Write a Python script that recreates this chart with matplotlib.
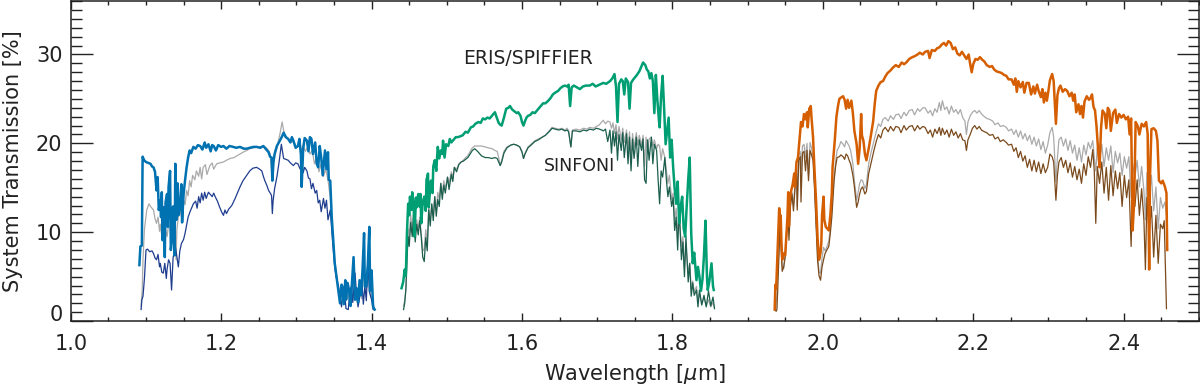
import numpy as np
import matplotlib
matplotlib.use('Agg')
import matplotlib.pyplot as plt
import matplotlib.transforms as mtrans
from matplotlib.ticker import MultipleLocator

# system transmission [%] vs wavelength [um]
# columns: wavelength, transmission

j_eris = np.array([
    [1.0912, 6.3], [1.0925, 8.4], [1.0945, 8.5], [1.0955, 18.5], [1.0975, 18.1], [1.100, 17.9],
    [1.103, 17.8], [1.106, 17.7], [1.108, 17.4], [1.110, 17.3], [1.112, 16.8], [1.114, 14.7],
    [1.1155, 16.2], [1.117, 12.5], [1.119, 13.6], [1.120, 11.7], [1.121, 14.5], [1.122, 9.1],
    [1.1235, 12.8], [1.125, 7.2], [1.126, 13.4], [1.128, 14.3], [1.129, 10.6], [1.130, 15.1],
    [1.132, 16.9], [1.133, 8.0], [1.135, 9.5], [1.136, 12.9], [1.138, 7.4], [1.139, 17.7],
    [1.1405, 11.4], [1.142, 15.5], [1.143, 11.9], [1.145, 12.8], [1.147, 15.4], [1.148, 11.1],
    [1.150, 14.3], [1.152, 15.9], [1.154, 17.3], [1.156, 18.4], [1.158, 19.2], [1.160, 18.9],
    [1.163, 19.6], [1.166, 19.4], [1.169, 19.8], [1.172, 19.7], [1.175, 19.3], [1.178, 20.1],
    [1.180, 19.5], [1.183, 19.9], [1.186, 19.1], [1.188, 19.8], [1.190, 19.7], [1.193, 19.2],
    [1.196, 19.8], [1.200, 19.6], [1.203, 19.7], [1.207, 19.4], [1.211, 19.7], [1.216, 19.6],
    [1.220, 19.5], [1.225, 19.6], [1.230, 19.4], [1.234, 19.4], [1.238, 19.5], [1.243, 19.6],
    [1.247, 19.6], [1.252, 19.5], [1.256, 19.7], [1.260, 19.3], [1.263, 19.0], [1.265, 18.5],
    [1.267, 18.4], [1.268, 15.8], [1.2695, 17.9], [1.271, 18.8], [1.274, 19.7], [1.278, 20.3],
    [1.281, 20.8], [1.283, 21.2], [1.286, 20.7], [1.289, 20.5], [1.292, 20.1], [1.294, 20.7],
    [1.296, 20.3], [1.299, 19.5], [1.302, 19.7], [1.304, 20.5], [1.306, 18.7], [1.307, 15.1],
    [1.309, 19.4], [1.311, 20.6], [1.314, 20.3], [1.316, 19.1], [1.318, 20.7], [1.320, 20.5],
    [1.322, 18.8], [1.325, 20.1], [1.327, 17.7], [1.329, 17.3], [1.331, 19.7], [1.333, 18.4],
    [1.335, 16.4], [1.338, 19.2], [1.340, 17.1], [1.342, 19.0], [1.343, 15.9], [1.345, 15.8],
    [1.347, 11.7], [1.349, 9.1], [1.351, 6.5], [1.354, 4.6], [1.356, 3.4], [1.358, 2.0],
    [1.360, 4.1], [1.361, 3.9], [1.363, 1.9], [1.365, 4.6], [1.366, 2.4], [1.368, 4.3],
    [1.370, 3.5], [1.372, 1.7], [1.374, 4.4], [1.376, 7.2], [1.378, 2.4], [1.380, 3.7],
    [1.382, 2.1], [1.384, 4.6], [1.386, 2.9], [1.388, 5.9], [1.390, 9.9], [1.391, 3.9],
    [1.393, 3.9], [1.395, 6.4], [1.397, 10.6], [1.398, 3.4], [1.400, 5.7], [1.402, 1.6],
    [1.404, 1.3]])

j_gray = np.array([
    [1.0935, 1.7], [1.094, 2.4], [1.095, 3.5], [1.096, 6.9], [1.098, 10.4], [1.101, 12.5],
    [1.104, 13.2], [1.106, 12.9], [1.108, 12.7], [1.110, 12.5], [1.112, 11.5], [1.114, 11.0],
    [1.116, 11.7], [1.118, 10.1], [1.119, 10.9], [1.121, 9.6], [1.123, 9.9], [1.125, 8.5],
    [1.126, 10.3], [1.128, 9.5], [1.130, 10.8], [1.132, 10.6], [1.134, 8.7], [1.136, 11.3],
    [1.138, 10.7], [1.140, 6.9], [1.141, 10.2], [1.143, 11.7], [1.145, 12.5], [1.147, 11.8],
    [1.150, 13.6], [1.152, 13.1], [1.154, 14.7], [1.156, 14.1], [1.158, 15.8], [1.160, 15.1],
    [1.162, 16.4], [1.165, 15.9], [1.167, 16.9], [1.170, 16.3], [1.172, 17.3], [1.174, 16.0],
    [1.176, 17.3], [1.179, 17.6], [1.181, 16.5], [1.185, 17.5], [1.188, 17.8], [1.190, 17.1],
    [1.194, 17.7], [1.198, 17.8], [1.203, 17.9], [1.207, 18.1], [1.212, 18.3], [1.217, 18.4],
    [1.221, 18.6], [1.225, 18.8], [1.229, 19.0], [1.234, 19.2], [1.238, 19.4], [1.243, 19.5],
    [1.247, 19.6], [1.252, 19.6], [1.256, 19.7], [1.260, 19.5], [1.263, 19.2], [1.265, 18.8],
    [1.268, 16.2], [1.270, 18.1], [1.274, 19.5], [1.278, 21.0], [1.281, 22.4], [1.283, 21.5],
    [1.285, 20.7], [1.289, 20.5], [1.293, 20.2], [1.297, 20.1], [1.300, 19.5], [1.303, 19.9],
    [1.306, 19.2], [1.309, 19.8], [1.312, 19.1], [1.315, 19.6], [1.318, 18.8], [1.321, 19.2],
    [1.324, 17.7], [1.327, 18.5], [1.330, 16.8], [1.333, 17.7], [1.336, 16.3], [1.339, 17.1],
    [1.342, 15.9], [1.345, 13.9], [1.347, 11.4], [1.349, 8.9], [1.351, 6.7], [1.354, 4.7],
    [1.356, 3.3], [1.358, 2.4], [1.361, 3.7], [1.363, 2.1], [1.366, 4.0], [1.368, 2.5],
    [1.371, 3.5], [1.373, 1.9], [1.376, 5.7], [1.378, 2.7], [1.381, 3.4], [1.384, 4.1],
    [1.387, 2.5], [1.389, 6.4], [1.391, 3.1], [1.394, 3.9], [1.397, 7.4], [1.399, 2.9],
    [1.402, 1.9], [1.404, 1.4]])

j_sinf = np.array([
    [1.0935, 1.3], [1.0945, 2.4], [1.096, 2.8], [1.098, 4.9], [1.100, 8.0], [1.102, 8.1],
    [1.105, 7.8], [1.108, 7.9], [1.110, 7.6], [1.112, 7.1], [1.114, 6.9], [1.116, 7.5],
    [1.118, 6.1], [1.119, 6.5], [1.121, 5.5], [1.123, 5.4], [1.125, 6.5], [1.127, 4.8],
    [1.128, 5.8], [1.130, 6.9], [1.132, 6.5], [1.134, 3.5], [1.136, 7.1], [1.139, 8.4],
    [1.141, 7.3], [1.143, 6.1], [1.145, 7.9], [1.147, 8.7], [1.150, 9.2], [1.152, 9.9],
    [1.154, 10.8], [1.156, 11.7], [1.159, 12.4], [1.163, 13.2], [1.166, 13.5], [1.168, 12.7],
    [1.170, 14.0], [1.172, 13.3], [1.174, 14.4], [1.176, 13.6], [1.178, 14.5], [1.180, 13.8],
    [1.183, 14.5], [1.185, 14.3], [1.188, 14.0], [1.190, 14.4], [1.192, 14.0], [1.195, 13.5],
    [1.198, 12.8], [1.201, 12.2], [1.203, 11.9], [1.205, 12.5], [1.207, 12.1], [1.210, 12.6],
    [1.214, 13.0], [1.218, 13.7], [1.221, 14.3], [1.225, 15.1], [1.229, 15.8], [1.234, 16.4],
    [1.238, 16.9], [1.242, 17.2], [1.247, 17.3], [1.251, 17.1], [1.254, 16.9], [1.256, 16.3],
    [1.258, 15.8], [1.261, 15.2], [1.263, 14.7], [1.266, 14.3], [1.267, 14.1], [1.268, 12.1],
    [1.269, 13.5], [1.271, 14.9], [1.274, 16.2], [1.277, 17.9], [1.280, 19.9], [1.283, 18.3],
    [1.286, 18.2], [1.289, 18.1], [1.292, 17.8], [1.296, 17.5], [1.299, 17.8], [1.302, 17.7],
    [1.305, 17.1], [1.307, 17.9], [1.309, 16.7], [1.311, 17.3], [1.314, 16.9], [1.316, 16.1],
    [1.318, 16.0], [1.320, 14.9], [1.322, 15.5], [1.325, 14.4], [1.327, 14.7], [1.329, 13.3],
    [1.331, 13.6], [1.333, 12.3], [1.336, 13.8], [1.338, 12.7], [1.340, 13.6], [1.342, 11.4],
    [1.345, 12.5], [1.348, 9.1], [1.351, 6.1], [1.353, 4.9], [1.356, 3.9], [1.358, 2.7],
    [1.360, 1.6], [1.362, 3.5], [1.364, 3.1], [1.366, 1.4], [1.369, 1.3], [1.371, 3.3],
    [1.373, 3.9], [1.375, 2.1], [1.378, 5.4], [1.380, 2.9], [1.382, 1.6], [1.385, 3.1],
    [1.387, 4.6], [1.389, 1.9], [1.391, 3.9], [1.393, 2.3], [1.395, 6.9], [1.397, 3.3],
    [1.400, 2.4], [1.402, 1.3], [1.404, 1.3]])

h_eris = np.array([
    [1.4398, 3.7], [1.442, 4.4], [1.444, 5.8], [1.4455, 5.1], [1.447, 9.9], [1.4486, 13.2],
    [1.450, 11.9], [1.451, 14.0], [1.453, 12.5], [1.454, 14.5], [1.456, 13.1], [1.457, 9.5],
    [1.459, 13.9], [1.460, 12.8], [1.462, 14.3], [1.4635, 12.9], [1.465, 14.3], [1.466, 11.0],
    [1.468, 13.4], [1.470, 14.0], [1.472, 12.4], [1.473, 15.9], [1.475, 16.6], [1.476, 12.8],
    [1.478, 15.1], [1.479, 15.8], [1.481, 14.4], [1.482, 17.4], [1.484, 18.1], [1.486, 16.9],
    [1.488, 19.6], [1.490, 18.3], [1.492, 19.2], [1.494, 18.8], [1.495, 20.3], [1.497, 18.4],
    [1.499, 19.9], [1.502, 19.7], [1.504, 20.5], [1.506, 20.1], [1.509, 20.4], [1.512, 20.7],
    [1.515, 20.7], [1.518, 20.8], [1.521, 20.9], [1.525, 21.3], [1.528, 21.2], [1.532, 21.8],
    [1.535, 21.9], [1.538, 22.2], [1.542, 22.4], [1.545, 22.3], [1.548, 22.8], [1.551, 22.7],
    [1.554, 22.9], [1.557, 22.8], [1.560, 23.1], [1.564, 23.5], [1.566, 23.0], [1.569, 22.3],
    [1.571, 22.1], [1.573, 22.0], [1.576, 22.9], [1.579, 23.9], [1.582, 24.0], [1.584, 24.2],
    [1.587, 23.8], [1.590, 23.6], [1.593, 23.4], [1.595, 23.5], [1.598, 23.1], [1.600, 22.4],
    [1.602, 22.0], [1.604, 22.5], [1.606, 22.9], [1.608, 23.1], [1.611, 23.2], [1.614, 23.5],
    [1.617, 23.4], [1.621, 23.8], [1.624, 24.1], [1.628, 24.5], [1.631, 24.5], [1.635, 24.8],
    [1.638, 25.1], [1.641, 25.5], [1.644, 25.7], [1.648, 25.9], [1.651, 26.2], [1.654, 26.4],
    [1.657, 26.5], [1.660, 26.4], [1.662, 26.6], [1.664, 24.2], [1.666, 26.3], [1.669, 26.5],
    [1.673, 26.3], [1.677, 26.1], [1.681, 26.4], [1.685, 26.5], [1.690, 26.5], [1.694, 26.7],
    [1.698, 26.4], [1.703, 26.6], [1.708, 26.8], [1.712, 26.7], [1.717, 27.0], [1.720, 27.3],
    [1.723, 27.8], [1.725, 26.4], [1.727, 22.4], [1.729, 26.7], [1.732, 27.2], [1.734, 27.0],
    [1.736, 25.5], [1.738, 27.3], [1.741, 26.9], [1.743, 23.9], [1.745, 26.8], [1.748, 27.2],
    [1.752, 27.6], [1.756, 28.1], [1.759, 28.7], [1.761, 29.1], [1.764, 28.8], [1.766, 28.3],
    [1.768, 28.1], [1.770, 27.3], [1.772, 27.9], [1.774, 27.0], [1.776, 23.4], [1.778, 27.7],
    [1.780, 24.9], [1.782, 22.7], [1.783, 21.8], [1.785, 25.4], [1.787, 27.6], [1.789, 23.9],
    [1.791, 19.9], [1.793, 21.4], [1.795, 22.9], [1.797, 18.4], [1.799, 20.4], [1.801, 17.3],
    [1.803, 14.9], [1.805, 13.2], [1.807, 15.7], [1.809, 11.0], [1.811, 12.9], [1.813, 14.0],
    [1.815, 10.4], [1.817, 9.5], [1.819, 12.9], [1.821, 15.9], [1.823, 18.4], [1.825, 9.9],
    [1.827, 6.5], [1.829, 7.7], [1.832, 4.6], [1.834, 6.1], [1.836, 5.0], [1.838, 3.4],
    [1.840, 4.7], [1.842, 7.4], [1.844, 11.3], [1.846, 4.9], [1.847, 3.5], [1.849, 4.4],
    [1.852, 6.5], [1.854, 3.9], [1.855, 3.5]])

h_gray = np.array([
    [1.4425, 1.7], [1.444, 2.3], [1.446, 3.9], [1.4475, 8.4], [1.4486, 10.4], [1.450, 9.3],
    [1.452, 11.9], [1.454, 10.2], [1.456, 12.5], [1.458, 9.8], [1.460, 11.4], [1.462, 10.3],
    [1.464, 11.7], [1.466, 9.8], [1.468, 7.9], [1.470, 8.1], [1.472, 10.3], [1.474, 8.9],
    [1.476, 12.9], [1.478, 11.3], [1.480, 13.1], [1.482, 11.9], [1.484, 14.0], [1.486, 12.4],
    [1.488, 14.5], [1.490, 13.7], [1.492, 15.5], [1.494, 14.3], [1.496, 15.8], [1.498, 14.9],
    [1.501, 16.2], [1.503, 15.5], [1.506, 16.8], [1.508, 16.2], [1.510, 17.3], [1.513, 17.1],
    [1.516, 17.7], [1.519, 17.9], [1.522, 18.1], [1.525, 18.4], [1.528, 18.6], [1.531, 19.1],
    [1.534, 19.5], [1.537, 19.7], [1.541, 19.7], [1.546, 19.7], [1.551, 19.6], [1.555, 19.5],
    [1.560, 19.4], [1.564, 19.2], [1.567, 19.1], [1.569, 18.4], [1.571, 17.5], [1.573, 18.1],
    [1.576, 19.1], [1.580, 19.6], [1.585, 19.8], [1.589, 19.9], [1.593, 19.8], [1.597, 19.6],
    [1.600, 19.1], [1.602, 18.3], [1.604, 18.9], [1.608, 19.6], [1.612, 19.9], [1.617, 20.3],
    [1.622, 20.5], [1.627, 20.7], [1.631, 20.9], [1.636, 21.4], [1.640, 21.8], [1.644, 21.7],
    [1.649, 21.6], [1.653, 21.7], [1.657, 21.5], [1.660, 21.7], [1.662, 21.4], [1.665, 19.6],
    [1.667, 21.5], [1.672, 21.6], [1.677, 21.5], [1.682, 21.7], [1.686, 21.6], [1.690, 21.8],
    [1.695, 21.7], [1.699, 21.9], [1.703, 22.1], [1.706, 22.4], [1.708, 22.6], [1.711, 22.2],
    [1.714, 22.5], [1.717, 22.4], [1.719, 21.7], [1.721, 22.3], [1.723, 21.1], [1.725, 22.1],
    [1.727, 20.5], [1.729, 21.9], [1.732, 20.4], [1.734, 21.7], [1.736, 20.1], [1.739, 21.5],
    [1.741, 19.4], [1.743, 21.3], [1.745, 17.9], [1.747, 21.1], [1.749, 19.5], [1.752, 21.2],
    [1.754, 19.8], [1.756, 20.9], [1.759, 19.8], [1.761, 20.9], [1.763, 17.4], [1.765, 20.7],
    [1.767, 18.8], [1.769, 20.5], [1.772, 20.7], [1.774, 19.7], [1.776, 20.4], [1.779, 19.4],
    [1.781, 19.9], [1.783, 19.7], [1.785, 18.1], [1.787, 19.4], [1.790, 18.4], [1.792, 16.9],
    [1.794, 15.5], [1.796, 16.4], [1.799, 13.7], [1.801, 14.4], [1.803, 11.4], [1.805, 12.7],
    [1.807, 9.9], [1.809, 11.9], [1.812, 8.4], [1.814, 9.5], [1.816, 5.9], [1.818, 8.4],
    [1.821, 5.4], [1.823, 6.5], [1.825, 3.7], [1.827, 4.5], [1.829, 3.3], [1.832, 3.9],
    [1.834, 2.3], [1.836, 3.1], [1.839, 1.9], [1.842, 2.7], [1.845, 1.7], [1.848, 2.4],
    [1.851, 1.6], [1.854, 2.1], [1.856, 1.5]])

h_sinf = np.array([
    [1.4425, 1.3], [1.444, 2.0], [1.4455, 3.5], [1.447, 6.9], [1.4486, 9.5], [1.450, 8.4],
    [1.452, 11.1], [1.454, 9.5], [1.456, 12.1], [1.458, 8.9], [1.460, 10.9], [1.462, 9.7],
    [1.464, 11.3], [1.466, 9.5], [1.468, 7.2], [1.470, 6.7], [1.472, 9.4], [1.474, 7.9],
    [1.476, 12.5], [1.478, 10.7], [1.480, 13.2], [1.482, 11.3], [1.484, 14.0], [1.486, 11.8],
    [1.488, 13.7], [1.490, 12.9], [1.492, 15.5], [1.494, 13.7], [1.496, 15.3], [1.498, 14.4],
    [1.501, 16.2], [1.503, 14.8], [1.506, 16.5], [1.508, 15.7], [1.510, 17.3], [1.513, 16.8],
    [1.516, 17.6], [1.519, 17.9], [1.522, 18.0], [1.525, 18.2], [1.528, 18.4], [1.531, 18.8],
    [1.534, 19.2], [1.537, 19.4], [1.541, 19.1], [1.546, 18.6], [1.551, 18.4], [1.555, 18.4],
    [1.560, 18.3], [1.564, 18.4], [1.567, 18.3], [1.569, 17.9], [1.571, 17.5], [1.573, 17.9],
    [1.576, 18.9], [1.580, 19.5], [1.585, 19.8], [1.589, 19.9], [1.593, 19.8], [1.597, 19.6],
    [1.600, 19.0], [1.602, 18.3], [1.604, 18.8], [1.608, 19.5], [1.612, 19.8], [1.617, 20.2],
    [1.622, 20.4], [1.627, 20.7], [1.631, 20.9], [1.636, 21.3], [1.640, 21.7], [1.644, 21.6],
    [1.649, 21.5], [1.653, 21.6], [1.657, 21.4], [1.660, 21.5], [1.662, 21.3], [1.665, 19.6],
    [1.667, 21.4], [1.672, 21.4], [1.677, 21.3], [1.682, 21.5], [1.686, 21.4], [1.690, 21.6],
    [1.695, 21.5], [1.699, 21.7], [1.703, 21.6], [1.706, 21.5], [1.708, 21.4], [1.711, 21.6],
    [1.714, 20.2], [1.717, 21.5], [1.719, 18.9], [1.721, 21.4], [1.723, 19.7], [1.725, 21.3],
    [1.727, 18.1], [1.729, 21.0], [1.732, 19.2], [1.734, 21.2], [1.736, 18.4], [1.739, 21.1],
    [1.741, 17.7], [1.743, 20.7], [1.745, 16.9], [1.747, 20.5], [1.749, 18.3], [1.752, 20.7],
    [1.754, 17.4], [1.756, 20.4], [1.759, 19.2], [1.761, 20.5], [1.763, 15.9], [1.765, 15.5],
    [1.767, 20.4], [1.769, 18.1], [1.772, 20.7], [1.774, 17.7], [1.776, 19.9], [1.779, 19.2],
    [1.781, 15.9], [1.783, 13.2], [1.785, 16.9], [1.787, 16.2], [1.790, 18.4], [1.792, 15.9],
    [1.794, 14.0], [1.796, 15.1], [1.799, 12.9], [1.801, 13.9], [1.803, 10.2], [1.805, 11.7],
    [1.807, 8.0], [1.809, 12.8], [1.812, 6.9], [1.814, 8.9], [1.816, 5.0], [1.818, 9.5],
    [1.821, 4.4], [1.823, 6.5], [1.825, 2.8], [1.827, 4.3], [1.829, 2.9], [1.832, 3.5],
    [1.834, 1.6], [1.836, 3.5], [1.839, 1.8], [1.842, 2.9], [1.845, 1.6], [1.848, 3.4],
    [1.851, 1.7], [1.854, 2.7], [1.856, 1.4]])

k_eris = np.array([
    [1.936, 1.3], [1.937, 4.1], [1.938, 3.7], [1.939, 5.9], [1.940, 8.4], [1.941, 10.4],
    [1.942, 12.7], [1.943, 11.4], [1.944, 11.9], [1.945, 8.9], [1.946, 6.9], [1.948, 7.6],
    [1.950, 7.4], [1.952, 10.4], [1.953, 11.7], [1.954, 14.5], [1.955, 10.7], [1.956, 13.7],
    [1.958, 14.7], [1.960, 15.4], [1.962, 16.6], [1.963, 15.1], [1.965, 17.9], [1.967, 18.4],
    [1.969, 20.4], [1.971, 22.4], [1.973, 21.9], [1.975, 23.3], [1.977, 22.7], [1.979, 23.5],
    [1.980, 21.8], [1.982, 23.9], [1.984, 24.2], [1.985, 22.9], [1.987, 20.7], [1.989, 16.9],
    [1.991, 13.6], [1.993, 9.4], [1.995, 6.9], [1.997, 7.7], [1.998, 8.7], [1.999, 11.9],
    [2.001, 14.0], [2.002, 11.4], [2.004, 10.6], [2.006, 10.4], [2.008, 10.2], [2.010, 11.9],
    [2.012, 14.4], [2.013, 17.3], [2.016, 20.4], [2.018, 22.9], [2.020, 24.1], [2.022, 25.0],
    [2.025, 25.2], [2.027, 25.3], [2.029, 24.9], [2.031, 23.9], [2.033, 24.9], [2.035, 24.0],
    [2.038, 24.8], [2.040, 23.4], [2.042, 21.4], [2.045, 19.9], [2.047, 17.7], [2.049, 19.4],
    [2.051, 23.3], [2.052, 20.9], [2.054, 20.3], [2.056, 18.8], [2.058, 18.1], [2.061, 19.4],
    [2.064, 20.9], [2.067, 22.5], [2.069, 24.4], [2.071, 25.9], [2.074, 26.5], [2.077, 26.9],
    [2.080, 27.0], [2.083, 27.5], [2.086, 27.9], [2.090, 28.2], [2.093, 28.5], [2.097, 28.8],
    [2.101, 28.6], [2.105, 29.1], [2.108, 28.9], [2.111, 29.1], [2.115, 29.5], [2.119, 29.7],
    [2.122, 29.8], [2.126, 30.0], [2.129, 30.2], [2.133, 30.0], [2.136, 30.3], [2.140, 30.4],
    [2.142, 29.6], [2.145, 30.5], [2.149, 30.4], [2.152, 30.7], [2.155, 30.8], [2.158, 31.1],
    [2.161, 31.3], [2.164, 31.0], [2.167, 31.5], [2.170, 31.3], [2.173, 30.6], [2.176, 30.8],
    [2.179, 30.1], [2.182, 29.9], [2.185, 30.3], [2.188, 29.9], [2.191, 29.5], [2.194, 30.0],
    [2.196, 28.9], [2.198, 28.0], [2.200, 28.9], [2.203, 29.5], [2.206, 29.4], [2.209, 29.7],
    [2.212, 29.4], [2.215, 29.2], [2.218, 28.8], [2.222, 28.6], [2.225, 28.7], [2.228, 28.3],
    [2.231, 28.1], [2.235, 28.0], [2.238, 27.9], [2.241, 27.7], [2.244, 27.6], [2.247, 27.2],
    [2.251, 27.2], [2.254, 26.6], [2.256, 27.3], [2.258, 25.8], [2.260, 27.0], [2.263, 26.3],
    [2.266, 26.9], [2.268, 25.7], [2.271, 26.8], [2.274, 26.8], [2.277, 25.5], [2.280, 26.4],
    [2.282, 25.6], [2.285, 26.6], [2.287, 25.9], [2.290, 25.2], [2.292, 26.1], [2.294, 24.6],
    [2.296, 25.7], [2.298, 24.8], [2.300, 25.9], [2.302, 27.1], [2.305, 27.8], [2.307, 27.0],
    [2.310, 22.2], [2.312, 25.4], [2.314, 26.2], [2.316, 26.5], [2.319, 25.8], [2.322, 26.1],
    [2.325, 25.9], [2.328, 25.3], [2.331, 25.7], [2.333, 24.8], [2.335, 25.5], [2.337, 23.5],
    [2.340, 24.4], [2.342, 23.3], [2.344, 24.2], [2.346, 22.9], [2.348, 24.7], [2.351, 25.3],
    [2.354, 24.9], [2.356, 25.1], [2.358, 25.5], [2.360, 24.1], [2.362, 23.7], [2.364, 21.9],
    [2.366, 19.4], [2.368, 17.3], [2.370, 21.7], [2.372, 23.7], [2.375, 23.3], [2.377, 21.7],
    [2.379, 24.0], [2.381, 23.7], [2.383, 21.4], [2.386, 23.4], [2.389, 23.8], [2.391, 22.3],
    [2.394, 23.3], [2.397, 22.9], [2.400, 23.2], [2.403, 22.7], [2.406, 23.0], [2.408, 21.0],
    [2.410, 22.8], [2.412, 10.2], [2.414, 13.4], [2.416, 22.4], [2.419, 21.9], [2.421, 21.0],
    [2.424, 22.2], [2.427, 21.9], [2.430, 22.4], [2.432, 21.1], [2.434, 5.8], [2.435, 15.9],
    [2.437, 21.6], [2.440, 21.7], [2.443, 21.4], [2.445, 20.3], [2.447, 15.8], [2.450, 15.5],
    [2.452, 15.8], [2.455, 15.1], [2.457, 14.4], [2.458, 8.0]])

k_gray = np.array([
    [1.937, 1.2], [1.939, 2.9], [1.940, 5.4], [1.942, 8.4], [1.943, 10.9], [1.944, 10.3],
    [1.946, 6.1], [1.948, 5.9], [1.950, 7.7], [1.952, 10.4], [1.954, 11.7], [1.955, 10.2],
    [1.957, 13.4], [1.959, 14.5], [1.961, 13.1], [1.963, 15.4], [1.965, 17.5], [1.966, 12.9],
    [1.968, 18.7], [1.970, 19.1], [1.971, 16.9], [1.973, 19.7], [1.975, 19.9], [1.977, 18.4],
    [1.979, 20.0], [1.981, 16.4], [1.983, 20.1], [1.985, 19.5], [1.987, 18.4], [1.989, 15.4],
    [1.991, 11.4], [1.993, 7.7], [1.995, 5.5], [1.997, 5.4], [1.999, 7.1], [2.001, 8.3],
    [2.003, 7.9], [2.006, 8.5], [2.008, 9.0], [2.010, 10.4], [2.012, 12.4], [2.015, 16.1],
    [2.017, 17.9], [2.019, 19.2], [2.022, 19.7], [2.024, 20.2], [2.027, 19.9], [2.029, 19.6],
    [2.031, 20.3], [2.033, 20.0], [2.035, 19.7], [2.037, 19.2], [2.040, 17.7], [2.042, 15.8],
    [2.045, 13.6], [2.047, 14.5], [2.049, 15.5], [2.051, 15.9], [2.053, 15.8], [2.056, 14.9],
    [2.058, 15.4], [2.061, 17.7], [2.064, 18.9], [2.068, 20.3], [2.071, 21.3], [2.074, 22.2],
    [2.077, 21.9], [2.080, 22.7], [2.083, 22.9], [2.087, 22.5], [2.090, 23.1], [2.094, 22.7],
    [2.097, 23.2], [2.101, 23.3], [2.104, 22.8], [2.108, 23.5], [2.111, 23.1], [2.115, 23.7],
    [2.119, 23.8], [2.122, 23.2], [2.126, 23.9], [2.129, 23.6], [2.133, 24.0], [2.136, 24.0],
    [2.140, 23.4], [2.143, 23.7], [2.146, 23.1], [2.149, 23.9], [2.152, 23.5], [2.155, 24.6],
    [2.157, 23.7], [2.159, 24.8], [2.162, 23.8], [2.165, 24.1], [2.168, 23.3], [2.171, 24.2],
    [2.174, 23.5], [2.177, 23.8], [2.180, 23.3], [2.183, 23.8], [2.186, 22.9], [2.189, 22.5],
    [2.191, 21.0], [2.193, 22.4], [2.196, 23.1], [2.199, 23.5], [2.202, 23.7], [2.205, 23.4],
    [2.208, 23.7], [2.211, 23.3], [2.215, 23.0], [2.218, 22.8], [2.222, 22.7], [2.226, 22.5],
    [2.229, 22.1], [2.233, 22.3], [2.236, 21.9], [2.240, 22.0], [2.244, 21.8], [2.247, 21.4],
    [2.251, 21.6], [2.254, 21.0], [2.257, 21.5], [2.260, 20.7], [2.263, 21.4], [2.266, 20.5],
    [2.269, 21.1], [2.272, 20.3], [2.275, 20.9], [2.278, 19.9], [2.281, 20.7], [2.284, 19.7],
    [2.287, 20.5], [2.290, 19.3], [2.293, 20.2], [2.296, 18.9], [2.299, 19.8], [2.302, 21.2],
    [2.305, 21.8], [2.307, 20.7], [2.310, 15.7], [2.312, 18.4], [2.314, 20.4], [2.317, 20.7],
    [2.320, 19.7], [2.323, 20.5], [2.326, 19.2], [2.329, 20.3], [2.332, 18.9], [2.335, 19.8],
    [2.338, 18.1], [2.341, 19.5], [2.344, 17.9], [2.347, 19.8], [2.350, 18.7], [2.353, 20.1],
    [2.356, 19.4], [2.359, 20.3], [2.361, 18.4], [2.363, 16.9], [2.365, 19.5], [2.368, 17.9],
    [2.371, 19.9], [2.374, 17.4], [2.377, 19.5], [2.380, 18.1], [2.383, 19.7], [2.386, 16.7],
    [2.389, 19.1], [2.392, 17.8], [2.395, 18.9], [2.398, 16.4], [2.401, 18.5], [2.404, 17.2],
    [2.407, 18.5], [2.410, 13.9], [2.412, 17.7], [2.415, 16.1], [2.418, 18.1], [2.421, 15.1],
    [2.424, 17.4], [2.427, 14.7], [2.429, 11.4], [2.431, 16.7], [2.434, 13.7], [2.437, 16.4],
    [2.440, 12.4], [2.443, 15.1], [2.446, 10.4], [2.449, 13.9], [2.452, 12.7], [2.455, 13.4],
    [2.457, 11.9]])

k_sinf = np.array([
    [1.937, 1.2], [1.938, 1.1], [1.939, 1.3], [1.940, 3.4], [1.942, 8.0], [1.943, 10.6],
    [1.944, 9.4], [1.946, 5.6], [1.948, 6.1], [1.950, 7.2], [1.952, 9.9], [1.954, 11.7],
    [1.955, 9.1], [1.957, 12.9], [1.959, 14.3], [1.961, 12.4], [1.963, 14.9], [1.965, 17.3],
    [1.966, 12.5], [1.968, 18.1], [1.970, 18.5], [1.971, 13.4], [1.973, 18.9], [1.975, 19.1],
    [1.977, 16.9], [1.979, 19.2], [1.981, 15.8], [1.983, 19.2], [1.985, 18.7], [1.987, 18.1],
    [1.989, 14.9], [1.991, 10.9], [1.993, 6.9], [1.995, 5.1], [1.997, 4.6], [1.999, 6.1],
    [2.001, 6.9], [2.003, 7.6], [2.006, 8.1], [2.008, 8.4], [2.010, 9.9], [2.012, 11.7],
    [2.015, 15.8], [2.017, 17.4], [2.019, 18.4], [2.022, 18.5], [2.024, 18.7], [2.027, 18.5],
    [2.029, 18.2], [2.031, 18.8], [2.033, 18.6], [2.035, 18.1], [2.037, 17.7], [2.040, 16.4],
    [2.042, 15.1], [2.045, 12.8], [2.047, 13.4], [2.049, 14.3], [2.051, 14.9], [2.053, 15.1],
    [2.056, 14.3], [2.058, 14.6], [2.061, 16.6], [2.064, 17.7], [2.068, 19.2], [2.071, 20.2],
    [2.074, 21.0], [2.077, 20.6], [2.080, 21.5], [2.083, 21.8], [2.087, 21.3], [2.090, 21.9],
    [2.094, 21.4], [2.097, 21.9], [2.101, 21.8], [2.104, 21.2], [2.108, 22.0], [2.111, 21.5],
    [2.115, 21.9], [2.119, 22.0], [2.122, 21.4], [2.126, 22.0], [2.129, 21.6], [2.133, 21.9],
    [2.136, 21.8], [2.140, 21.1], [2.143, 21.5], [2.146, 20.7], [2.149, 21.6], [2.152, 21.1],
    [2.155, 21.8], [2.157, 20.9], [2.159, 21.7], [2.162, 21.0], [2.165, 21.5], [2.168, 20.7],
    [2.171, 21.6], [2.174, 20.9], [2.177, 21.3], [2.180, 20.6], [2.183, 21.1], [2.186, 20.4],
    [2.189, 20.3], [2.191, 19.2], [2.193, 20.4], [2.196, 21.0], [2.199, 21.7], [2.202, 22.0],
    [2.205, 21.6], [2.208, 21.9], [2.211, 21.5], [2.215, 21.3], [2.218, 21.2], [2.222, 20.9],
    [2.226, 21.0], [2.229, 20.5], [2.233, 20.7], [2.236, 20.2], [2.240, 20.4], [2.244, 20.1],
    [2.247, 19.8], [2.251, 19.9], [2.254, 19.1], [2.257, 19.5], [2.260, 18.4], [2.263, 19.1],
    [2.266, 18.0], [2.269, 18.6], [2.272, 17.3], [2.275, 18.2], [2.278, 16.9], [2.281, 18.1],
    [2.284, 16.8], [2.287, 17.9], [2.290, 16.6], [2.293, 17.7], [2.296, 16.7], [2.299, 17.3],
    [2.302, 18.8], [2.305, 18.5], [2.307, 17.9], [2.310, 13.6], [2.312, 16.4], [2.314, 17.9],
    [2.317, 18.4], [2.320, 17.3], [2.323, 18.1], [2.326, 16.7], [2.329, 17.8], [2.332, 16.2],
    [2.335, 17.4], [2.338, 15.9], [2.341, 17.1], [2.344, 15.5], [2.347, 17.7], [2.350, 16.4],
    [2.353, 18.5], [2.356, 17.3], [2.359, 19.3], [2.361, 16.9], [2.363, 11.0], [2.365, 17.4],
    [2.368, 15.5], [2.371, 17.9], [2.374, 14.4], [2.377, 17.3], [2.380, 13.6], [2.383, 17.5],
    [2.386, 14.1], [2.389, 16.9], [2.392, 14.9], [2.395, 16.7], [2.398, 12.9], [2.401, 16.4],
    [2.404, 13.9], [2.407, 15.9], [2.410, 8.4], [2.412, 15.1], [2.415, 12.9], [2.418, 15.9],
    [2.421, 11.9], [2.424, 14.9], [2.427, 11.4], [2.429, 5.8], [2.431, 13.9], [2.434, 9.9],
    [2.437, 12.9], [2.440, 7.2], [2.443, 11.9], [2.446, 6.5], [2.449, 10.9], [2.452, 10.4],
    [2.454, 11.3], [2.456, 4.9], [2.457, 1.4]])

gray = '#aaaaaa'
bands = [
    (j_gray, j_sinf, j_eris, '#1f3d8f', '#0072b2'),
    (h_gray, h_sinf, h_eris, '#1c5e4c', '#009e73'),
    (k_gray, k_sinf, k_eris, '#7a4a1c', '#d55e00'),
]

plt.rcParams['font.family'] = 'DejaVu Sans'
ink = '#222222'

fig = plt.figure(figsize=(12, 3.85), dpi=100)
ax = fig.add_axes([0.059, 0.166, 0.940, 0.831])

for g, s, e, cs, ce in bands:
    ax.plot(g[:, 0], g[:, 1], color=gray, lw=0.9)
    ax.plot(s[:, 0], s[:, 1], color=cs, lw=0.9)
    ax.plot(e[:, 0], e[:, 1], color=ce, lw=1.8)

ax.text(1.608, 29.6, 'ERIS/SPIFFIER', ha='center', va='center', fontsize=13.5, color=ink)
ax.text(1.677, 17.5, 'SINFONI', ha='center', va='center', fontsize=12.5, color=ink)

ax.set_xlim(1.0, 2.5)
ax.set_ylim(0, 36)
ax.xaxis.set_major_locator(MultipleLocator(0.2))
ax.xaxis.set_minor_locator(MultipleLocator(0.05))
ax.yaxis.set_major_locator(MultipleLocator(10))
ax.yaxis.set_minor_locator(MultipleLocator(1))
ax.xaxis.set_major_formatter(plt.FormatStrFormatter('%.1f'))

ax.tick_params(axis='both', which='both', direction='in', top=True, right=True,
               colors=ink, labelsize=15)
ax.tick_params(axis='x', which='major', length=6, width=1.0, pad=9)
ax.tick_params(axis='x', which='minor', length=3, width=1.0)
ax.tick_params(axis='y', which='major', length=16, width=1.0, pad=6)
ax.tick_params(axis='y', which='minor', length=8, width=1.0)
for sp in ax.spines.values():
    sp.set_linewidth(1.1)
    sp.set_color(ink)

ax.set_xlabel(r'Wavelength [$\mu$m]', fontsize=15, color=ink, labelpad=6)
ax.set_ylabel('System Transmission [%]', fontsize=15, color=ink, labelpad=9)

# the "0" label sits a little above the axis line in the original
fig.canvas.draw()
lift = mtrans.ScaledTranslation(0, 0.08, fig.dpi_scale_trans)
for t in ax.yaxis.get_major_ticks():
    if abs(t.get_loc()) < 1e-9:
        t.label1.set_transform(t.label1.get_transform() + lift)

fig.savefig('out.png', dpi=100)
